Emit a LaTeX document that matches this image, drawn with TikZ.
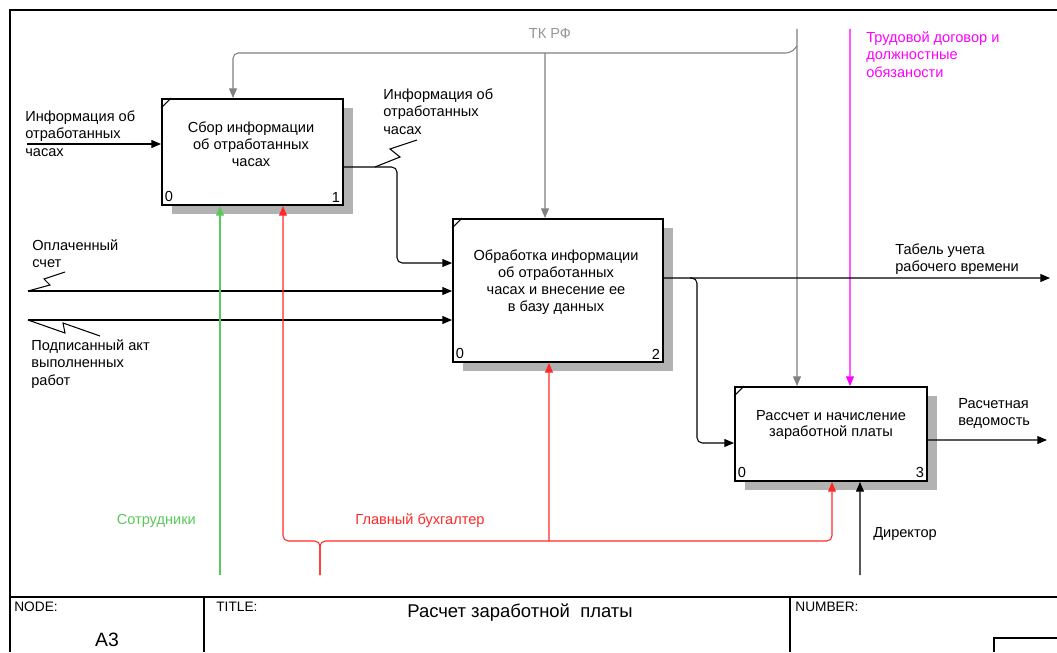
\documentclass[tikz,border=0pt]{standalone}
\usepackage{fontspec}
\setmainfont{Liberation Sans}
\usetikzlibrary{arrows.meta, shadows}

\definecolor{ctrlgray}{RGB}{128,128,128}
\definecolor{labgray}{RGB}{150,150,150}
\definecolor{mechgreen}{RGB}{90,200,90}
\definecolor{mechred}{RGB}{255,40,40}
\definecolor{ctrlmag}{RGB}{255,0,255}

\begin{document}
\begin{tikzpicture}[x=0.02cm, y=-0.02cm,
    font=\fontsize{8.3}{10}\selectfont,
    box/.style={rectangle, draw, line width=1.1pt, fill=white, inner sep=0pt,
        general shadow={fill=gray!60, shadow xshift=0.2cm, shadow yshift=-0.18cm}},
    boxtext/.style={align=center, font=\fontsize{8.3}{9.6}\selectfont},
    num/.style={inner sep=2pt},
    lbl/.style={align=left, inner sep=0pt, anchor=north west},
    arrow/.style={-{Triangle[length=5.5pt, width=4.5pt]}, line width=0.6pt},
    frame/.style={line width=0.9pt}
]
    \useasboundingbox (0,0) rectangle (1057,652);

    % Frame
    \draw[frame] (1057,10) -- (10,10) -- (10,652);
    \draw[frame] (10,597) -- (1057,597);
    \draw[line width=0.6pt] (204,597) -- (204,652);
    \draw[line width=0.6pt] (790,597) -- (790,652);
    \draw[line width=0.6pt] (1057,638) -- (994,638) -- (994,652);

    % Title block
    \node[lbl, font=\fontsize{7.8}{9}\selectfont] (nodelbl) at (14,602) {NODE:};
    \node[font=\fontsize{11}{13}\selectfont] (nodeno) at (107,640) {A3};
    \node[lbl, font=\fontsize{7.8}{9}\selectfont] (titlelbl) at (216,602) {TITLE:};
    \node[font=\fontsize{10.5}{12}\selectfont] (title) at (520,613) {Расчет заработной\ \ платы};
    \node[lbl, font=\fontsize{7.8}{9}\selectfont] (numberlbl) at (795,602) {NUMBER:};

    % Activities
    \node[box, minimum width=3.62cm, minimum height=2.12cm] (b1) at (252.5,152) {};
    \node[box, minimum width=4.2cm, minimum height=2.86cm] (b2) at (558,290.5) {};
    \node[box, minimum width=3.84cm, minimum height=1.88cm] (b3) at (831,434) {};

    \node[boxtext] (t1) at (251,144) {Сбор информации\\об отработанных\\часах};
    \node[boxtext] (t2) at (556,282) {Обработка информации\\об отработанных\\часах и внесение ее\\в базу данных};
    \node[boxtext] (t3) at (831,425) {Рассчет и начисление\\заработной платы};

    \foreach \b/\n in {b1/1, b2/2, b3/3} {
        \draw[line width=0.6pt] ([xshift=0.2cm]\b.north west) -- ([yshift=-0.2cm]\b.north west);
        \node[num, anchor=south west] at (\b.south west) {0};
        \node[num, anchor=south east] at (\b.south east) {\n};
    }

    % Inputs
    \coordinate (in1) at (27,144);
    \coordinate (in2) at (28,291);
    \coordinate (in3) at (28,320);
    \draw[arrow] (in1) -- (in1 -| b1.west);
    \draw[arrow, rounded corners=3pt] ([yshift=-0.3cm]b1.east) -| (397,263) -- ([yshift=0.55cm]b2.west);
    \draw[arrow] (in2) -- (in2 -| b2.west);
    \draw[arrow] (in3) -- (in3 -| b2.west);

    \node[lbl] (in1lbl) at (25,110) {Информация об\\отработанных\\часах};
    \node[lbl] (o1lbl) at (383,88) {Информация об\\отработанных\\часах};
    \node[lbl] (in2lbl) at (32,239) {Оплаченный\\счет};
    \node[lbl] (in3lbl) at (31,339) {Подписанный акт\\выполненных\\работ};
    \draw[line width=0.6pt] (417,140) -- (390,149) -- (400,157) -- (375,167);
    \draw[line width=0.6pt] (28,291) -- (50,285) -- (44,279) -- (65,272);
    \draw[line width=0.6pt] (28,320) -- (65,333) -- (63,323) -- (100,336);

    % Controls
    \coordinate (tk) at (797,29);
    \coordinate (td) at (850,29);
    \draw[arrow, ctrlgray] (tk) -- ([xshift=-0.68cm]b3.north);
    \draw[arrow, ctrlgray, rounded corners=3pt] (tk |- 0,46) -- (791,53) -| ([xshift=-0.39cm]b1.north);
    \draw[arrow, ctrlgray] (545,53) -- ([xshift=-0.26cm]b2.north);
    \draw[arrow, ctrlmag] (td) -- ([xshift=0.38cm]b3.north);
    \node[labgray] (tklbl) at (550,33) {ТК РФ};
    \node[lbl, ctrlmag] (tdlbl) at (866,31) {Трудовой договор и\\должностные\\обязаности};

    % Outputs
    \coordinate (tab) at (1050,278);
    \coordinate (ved) at (1047,440);
    \draw[arrow] ([yshift=0.25cm]b2.east) -- (tab);
    \draw[arrow, rounded corners=3pt] (690,278) -| (697,443) -- ([yshift=-0.18cm]b3.west);
    \draw[arrow] ([yshift=-0.12cm]b3.east) -- (ved);
    \node[lbl] (tablbl) at (895,243) {Табель учета\\рабочего времени};
    \node[lbl] (vedlbl) at (958,398) {Расчетная\\ведомость};

    % Mechanisms
    \coordinate (sot) at (220,575);
    \coordinate (gb) at (320,575);
    \coordinate (dir) at (860,575);
    \draw[arrow, mechgreen] (sot) -- (sot |- b1.south);
    \draw[arrow, mechred, rounded corners=3pt] (gb) |- (283,541) -- ([xshift=0.61cm]b1.south);
    \draw[arrow, mechred, rounded corners=3pt] (gb) |- (832,541) -- ([xshift=0.02cm]b3.south);
    \draw[arrow, mechred] (549,541) -- ([xshift=-0.18cm]b2.south);
    \draw[arrow] (dir) -- ([xshift=0.58cm]b3.south);
    \node[anchor=east, mechgreen] (sotlbl) at (202,521) {Сотрудники};
    \node[mechred] (gblbl) at (420,521) {Главный бухгалтер};
    \node (dirlbl) at (905,534) {Директор};
\end{tikzpicture}
\end{document}
